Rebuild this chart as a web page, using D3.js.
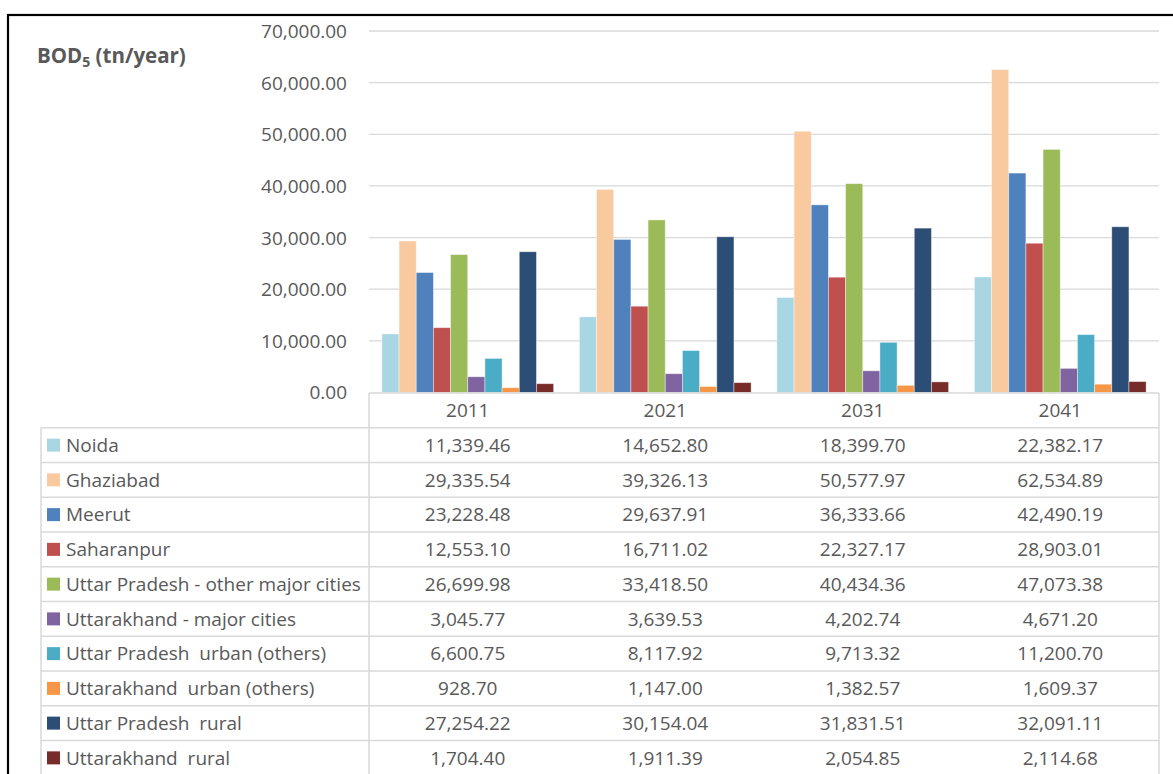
<!DOCTYPE html>
<html>
<head>
<meta charset="utf-8">
<script src="https://cdn.jsdelivr.net/npm/d3@7"></script>
<style>
  html, body { margin: 0; padding: 0; background: #fff; }
  svg { display: block; }
  text { font-family: "Open Sans", "Noto Sans", sans-serif; fill: #595959; }
</style>
</head>
<body>
<svg id="chart" width="1173" height="774"></svg>
<script>
// BOD5 load by region and projection year
const years = ["2011", "2021", "2031", "2041"];
const seriesNames = [
  "Noida",
  "Ghaziabad",
  "Meerut",
  "Saharanpur",
  "Uttar Pradesh - other major cities",
  "Uttarakhand - major cities",
  "Uttar Pradesh  urban (others)",
  "Uttarakhand  urban (others)",
  "Uttar Pradesh  rural",
  "Uttarakhand  rural"
];
const noida        = [11339.46, 14652.80, 18399.70, 22382.17];
const ghaziabad    = [29335.54, 39326.13, 50577.97, 62534.89];
const meerut       = [23228.48, 29637.91, 36333.66, 42490.19];
const saharanpur   = [12553.10, 16711.02, 22327.17, 28903.01];
const upMajor      = [26699.98, 33418.50, 40434.36, 47073.38];
const ukMajor      = [3045.77, 3639.53, 4202.74, 4671.20];
const upUrban      = [6600.75, 8117.92, 9713.32, 11200.70];
const ukUrban      = [928.70, 1147.00, 1382.57, 1609.37];
const upRural      = [27254.22, 30154.04, 31831.51, 32091.11];
const ukRural      = [1704.40, 1911.39, 2054.85, 2114.68];
const yTicks = [0, 10000, 20000, 30000, 40000, 50000, 60000, 70000];
const colors = ["#a8d7e3", "#f9c9a0", "#4f81bd", "#c0504d", "#9bbb59",
                "#8064a2", "#4bacc6", "#f79646", "#2c4d75", "#772c2a"];

const seriesValues = [noida, ghaziabad, meerut, saharanpur, upMajor,
                      ukMajor, upUrban, ukUrban, upRural, ukRural];
const series = seriesNames.map((name, i) => ({ name, values: seriesValues[i], color: colors[i] }));

const svg = d3.select("#chart");
const fmt = d3.format(",.2f");
const fontSize = "19px";

const plot = { left: 369, right: 1159, top: 31, bottom: 392.5 };
const tableLeft = 41;
const rowH = 34.75;
const gridColor = "#d9d9d9";

// Outer frame
svg.append("rect")
  .attr("x", 8).attr("y", 15).attr("width", 1200).attr("height", 800)
  .attr("fill", "none").attr("stroke", "#000").attr("stroke-width", 2.2);

const x0 = d3.scaleBand().domain(years).range([plot.left, plot.right]).paddingInner(0).paddingOuter(0);
const groupW = x0.bandwidth() * 10 / 11.5;
const x1 = d3.scaleBand().domain(seriesNames).range([0, groupW]).padding(0);
const y = d3.scaleLinear().domain([0, 70000]).range([plot.bottom, plot.top]);

// Gridlines
svg.append("g").selectAll("line").data(yTicks.filter(d => d > 0)).join("line")
  .attr("x1", plot.left).attr("x2", plot.right)
  .attr("y1", d => y(d)).attr("y2", d => y(d))
  .attr("stroke", gridColor).attr("stroke-width", 1.3);

// Y axis labels
const yAxis = d3.axisLeft(y).tickValues(yTicks).tickFormat(fmt).tickSize(0).tickPadding(0);
const yg = svg.append("g").attr("transform", `translate(${347},0)`).call(yAxis);
yg.select(".domain").remove();
yg.selectAll("text").style("font-size", fontSize).attr("fill", "#595959")
  .style("font-family", "\"Open Sans\", sans-serif").attr("dy", "0.34em");

// Bars
const groups = svg.append("g").selectAll("g").data(years).join("g")
  .attr("transform", d => `translate(${x0(d) + (x0.bandwidth() - groupW) / 2},0)`);
groups.selectAll("rect")
  .data((yr, yi) => series.map(s => ({ name: s.name, color: s.color, v: s.values[yi] })))
  .join("rect")
  .attr("x", d => x1(d.name))
  .attr("width", x1.bandwidth())
  .attr("y", d => y(d.v))
  .attr("height", d => y(0) - y(d.v))
  .attr("fill", d => d.color)
  .attr("stroke", "#ffffff").attr("stroke-opacity", 0.5).attr("stroke-width", 0.8);

// Data table
const tbl = svg.append("g");
const headerTop = plot.bottom + 0.5;
const lineW = 1.5;
tbl.append("line").attr("x1", plot.left).attr("x2", plot.right)
  .attr("y1", headerTop).attr("y2", headerTop).attr("stroke", gridColor).attr("stroke-width", lineW);
const tableBottom = headerTop + rowH * (series.length + 1);
tbl.append("line").attr("x1", plot.left).attr("x2", plot.left)
  .attr("y1", headerTop).attr("y2", tableBottom).attr("stroke", gridColor).attr("stroke-width", lineW);
tbl.append("line").attr("x1", plot.right).attr("x2", plot.right)
  .attr("y1", headerTop).attr("y2", tableBottom).attr("stroke", gridColor).attr("stroke-width", lineW);
tbl.append("line").attr("x1", tableLeft).attr("x2", tableLeft)
  .attr("y1", headerTop + rowH).attr("y2", tableBottom).attr("stroke", gridColor).attr("stroke-width", lineW);
tbl.selectAll("line.row").data(d3.range(series.length + 1)).join("line")
  .attr("class", "row")
  .attr("x1", tableLeft).attr("x2", plot.right)
  .attr("y1", i => headerTop + rowH * (i + 1)).attr("y2", i => headerTop + rowH * (i + 1))
  .attr("stroke", gridColor).attr("stroke-width", lineW);

// Header year labels
tbl.selectAll("text.yr").data(years).join("text")
  .attr("class", "yr")
  .attr("x", d => x0(d) + x0.bandwidth() / 2)
  .attr("y", headerTop + rowH / 2)
  .attr("dy", "0.36em").attr("text-anchor", "middle")
  .style("font-size", fontSize).text(d => d);

// Legend keys, series names and values
const rows = tbl.selectAll("g.r").data(series).join("g")
  .attr("class", "r")
  .attr("transform", (d, i) => `translate(0,${headerTop + rowH * (i + 1)})`);
rows.append("rect")
  .attr("x", 47).attr("y", rowH / 2 - 6.5).attr("width", 13).attr("height", 13)
  .attr("fill", d => d.color);
rows.append("text")
  .attr("x", 66).attr("y", rowH / 2).attr("dy", "0.36em")
  .style("font-size", fontSize).text(d => d.name)
  .attr("xml:space", "preserve").style("white-space", "pre");
rows.selectAll("text.v").data(d => d.values.map((v, i) => ({ v, yr: years[i] }))).join("text")
  .attr("class", "v")
  .attr("x", d => x0(d.yr) + x0.bandwidth() / 2)
  .attr("y", rowH / 2).attr("dy", "0.36em").attr("text-anchor", "middle")
  .style("font-size", fontSize).text(d => fmt(d.v));

// Axis title: BOD5 (tn/year)
const title = svg.append("text").attr("x", 37).attr("y", 63)
  .style("font-size", "20.5px").style("font-weight", "bold").attr("fill", "#595959");
title.append("tspan").text("BOD");
title.append("tspan").attr("dy", 4).style("font-size", "14px").text("5");
title.append("tspan").attr("dy", -4).text(" (tn/year)");
</script>
</body>
</html>
